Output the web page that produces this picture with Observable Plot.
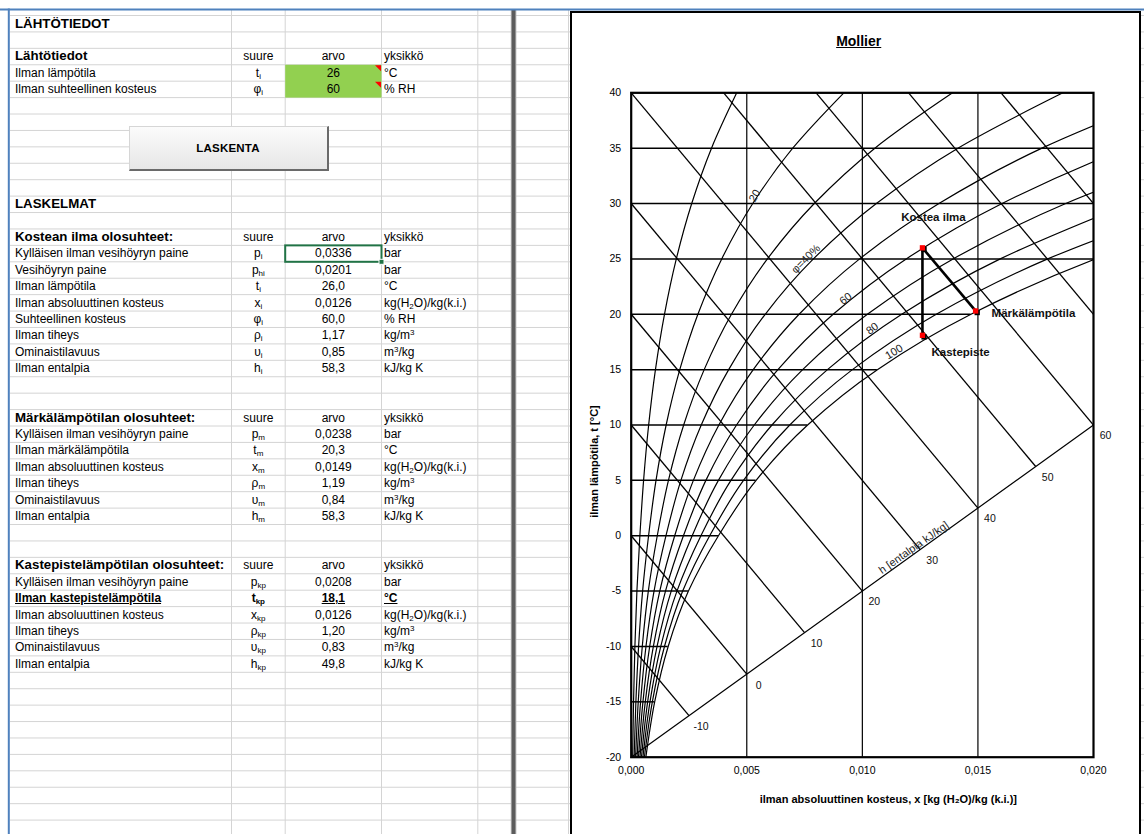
<!DOCTYPE html>
<html lang="fi">
<head>
<meta charset="utf-8">
<title>Mollier</title>
<script src="https://cdn.jsdelivr.net/npm/d3@7"></script>
<script src="https://cdn.jsdelivr.net/npm/@observablehq/plot@0.6"></script>
<style>
html, body { margin:0; padding:0; background:#fff; }
#page { position:relative; width:1144px; height:834px; overflow:hidden; background:#fff; font-family:"Liberation Sans", Arial, sans-serif; }
#grid { position:absolute; left:0; top:0; }
.cell { position:absolute; font-size:12px; color:#000; white-space:nowrap; }
.cell sub { font-size:8px; position:relative; top:2px; vertical-align:baseline; line-height:0; }
.cell sup { font-size:8px; position:relative; top:-4px; vertical-align:baseline; line-height:0; }
.bold { font-weight:bold; }
.hdr { font-weight:bold; font-size:13.3px; }
.ul { text-decoration:underline; }
#button { position:absolute; left:128.5px; top:125.7px; width:197px; height:42px; background:linear-gradient(#fbfbfb,#e6e6e6); border-top:1px solid #d6d6d6; border-left:1px solid #d6d6d6; border-right:2px solid #6a6a6a; border-bottom:2px solid #6a6a6a; font-weight:bold; font-size:11.5px; line-height:42px; text-align:center; color:#000; letter-spacing:0.2px; }
#chartbox { position:absolute; left:570px; top:11px; width:567px; height:840px; border:2px solid #000; background:#fff; }
#title { position:absolute; left:758.7px; top:33px; width:200px; text-align:center; font-weight:bold; font-size:14px; line-height:17px; text-decoration:underline; color:#000; }
#plot { position:absolute; left:572px; top:13px; }
</style>
</head>
<body>
<div id="page">
  <svg id="grid" width="1144" height="834"></svg>
  <div id="button">LASKENTA</div>
  <div id="chartbox"></div>
  <div id="title">Mollier</div>
  <div id="plot"></div>
</div>
<script>
// ---------------- Spreadsheet data ----------------
const sheetTitle1 = "LÄHTÖTIEDOT";
const sheetTitle2 = "LASKELMAT";
const colHeaders = ["suure", "arvo", "yksikkö"];

const inputHeader = "Lähtötiedot";
const inputLabels = ["Ilman lämpötila", "Ilman suhteellinen kosteus"];
const inputSymbols = ["t<sub>i</sub>", "φ<sub>i</sub>"];
const inputValues = ["26", "60"];
const inputUnits = ["°C", "% RH"];

const moistHeader = "Kostean ilma olosuhteet:";
const moistLabels = ["Kylläisen ilman vesihöyryn paine", "Vesihöyryn paine", "Ilman lämpötila", "Ilman absoluuttinen kosteus", "Suhteellinen kosteus", "Ilman tiheys", "Ominaistilavuus", "Ilman entalpia"];
const moistSymbols = ["p<sub>i</sub>", "p<sub>hi</sub>", "t<sub>i</sub>", "x<sub>i</sub>", "φ<sub>i</sub>", "ρ<sub>i</sub>", "υ<sub>i</sub>", "h<sub>i</sub>"];
const moistValues = ["0,0336", "0,0201", "26,0", "0,0126", "60,0", "1,17", "0,85", "58,3"];
const moistUnits = ["bar", "bar", "°C", "kg(H<sub>2</sub>O)/kg(k.i.)", "% RH", "kg/m<sup>3</sup>", "m<sup>3</sup>/kg", "kJ/kg K"];

const wetHeader = "Märkälämpötilan olosuhteet:";
const wetLabels = ["Kylläisen ilman vesihöyryn paine", "Ilman märkälämpötila", "Ilman absoluuttinen kosteus", "Ilman tiheys", "Ominaistilavuus", "Ilman entalpia"];
const wetSymbols = ["p<sub>m</sub>", "t<sub>m</sub>", "x<sub>m</sub>", "ρ<sub>m</sub>", "υ<sub>m</sub>", "h<sub>m</sub>"];
const wetValues = ["0,0238", "20,3", "0,0149", "1,19", "0,84", "58,3"];
const wetUnits = ["bar", "°C", "kg(H<sub>2</sub>O)/kg(k.i.)", "kg/m<sup>3</sup>", "m<sup>3</sup>/kg", "kJ/kg K"];

const dewHeader = "Kastepistelämpötilan olosuhteet:";
const dewLabels = ["Kylläisen ilman vesihöyryn paine", "Ilman kastepistelämpötila", "Ilman absoluuttinen kosteus", "Ilman tiheys", "Ominaistilavuus", "Ilman entalpia"];
const dewSymbols = ["p<sub>kp</sub>", "t<sub>kp</sub>", "x<sub>kp</sub>", "ρ<sub>kp</sub>", "υ<sub>kp</sub>", "h<sub>kp</sub>"];
const dewValues = ["0,0208", "18,1", "0,0126", "1,20", "0,83", "49,8"];
const dewUnits = ["bar", "°C", "kg(H<sub>2</sub>O)/kg(k.i.)", "kg/m<sup>3</sup>", "m<sup>3</sup>/kg", "kJ/kg K"];

// ---------------- Mollier chart data ----------------
const T = [-20, -15, -10, -5, 0, 5, 10, 15, 20, 25, 30, 35, 40];
const rhLevels = [10, 20, 30, 40, 50, 60, 70, 80, 90, 100];
const rh10 = [0.0000634, 0.0001014, 0.0001596, 0.0002467, 0.0003754, 0.0005361, 0.0007549, 0.0010488, 0.0014393, 0.0019519, 0.0026179, 0.0034745, 0.0045663];
const rh20 = [0.0001267, 0.0002029, 0.0003193, 0.0004936, 0.0007513, 0.0010732, 0.0015116, 0.0021012, 0.0028852, 0.0039161, 0.0052579, 0.0069881, 0.0092002];
const rh30 = [0.0001901, 0.0003044, 0.000479, 0.0007407, 0.0011276, 0.0016111, 0.0022701, 0.0031572, 0.0043379, 0.0058926, 0.0079203, 0.0105413, 0.013903];
const rh40 = [0.0002535, 0.0004059, 0.0006388, 0.0009879, 0.0015044, 0.0021501, 0.0030305, 0.0042167, 0.0057974, 0.0078817, 0.0106055, 0.0141349, 0.0186767];
const rh50 = [0.0003169, 0.0005075, 0.0007987, 0.0012354, 0.0018817, 0.0026899, 0.0037927, 0.0052798, 0.0072637, 0.0098835, 0.0133135, 0.0177695, 0.0235223];
const rh60 = [0.0003803, 0.0006091, 0.0009587, 0.0014831, 0.0022594, 0.0032307, 0.0045569, 0.0063465, 0.0087367, 0.011898, 0.0160449, 0.021446, 0.02844];
const rh70 = [0.0004438, 0.0007107, 0.0011188, 0.0017309, 0.0026375, 0.0037724, 0.0053228, 0.0074169, 0.0102168, 0.0139254, 0.0188, 0.025165];
const rh80 = [0.0005072, 0.0008123, 0.001279, 0.001979, 0.0030161, 0.004315, 0.0060907, 0.0084909, 0.0117038, 0.0159658, 0.021578];
const rh90 = [0.0005707, 0.000914, 0.0014392, 0.0022273, 0.0033952, 0.0048586, 0.0068604, 0.0095686, 0.0131978, 0.0180193, 0.024382];
const rh100 = [0.0006342, 0.0010158, 0.0015996, 0.0024757, 0.0037747, 0.0054032, 0.007632, 0.01065, 0.0146989, 0.0200861, 0.02721];

const isoT = [-20, -15, -10, -5, 0, 5, 10, 15, 20, 25, 30, 35, 40];
const isoXend = [0.000634, 0.001016, 0.0016, 0.002476, 0.003775, 0.005403, 0.007632, 0.01065, 0.0147, 0.02, 0.02, 0.02, 0.02];

const xGrid = [0.005, 0.010, 0.015];
const xTicks = [0, 0.005, 0.010, 0.015, 0.020];
const yTicks = [-20, -15, -10, -5, 0, 5, 10, 15, 20, 25, 30, 35, 40];

const hVals = [-10, 0, 10, 20, 30, 40, 50, 60, 70, 80];
const hX0 = [0, 0, 0, 0, 0, 0, 0.004, 0.008, 0.012, 0.016];
const hT0 = [-10, 0, 10, 20, 30, 40, 40, 40, 40, 40];
const hX1 = [0.0025, 0.005, 0.0075, 0.010, 0.0125, 0.015, 0.0175, 0.020, 0.020, 0.020];
const hT1 = [-16.25, -12.5, -8.75, -5, -1.25, 2.5, 6.25, 10, 20, 30];
const hLabelCount = 8;
const baseX = [0, 0.020];
const baseT = [-20, 10];

const stateNames = ["Kostea ilma", "Märkälämpötila", "Kastepiste"];
const stateX = [0.0126, 0.0149, 0.0126];
const stateT = [26.0, 20.3, 18.1];

const rhLabelText = ["20", "φ=40%", "60", "80", "100"];
const rhLabelX = [0.00534, 0.00755, 0.00928, 0.01043, 0.01137];
const rhLabelT = [30.7, 25.0, 21.4, 18.7, 16.6];

const titleText = "Mollier";
const xLabel = "ilman absoluuttinen kosteus, x [kg (H₂O)/kg (k.i.)]";
const yLabel = "ilman lämpötila, t [°C]";
const hLabel = "h [entalpia kJ/kg]";

// ---------------- Spreadsheet rendering ----------------
const page = document.getElementById("page");
const svg = d3.select("#grid");
const ROW0 = 15.5, ROWH = 16.42;
const rowTop = k => ROW0 + (k - 1) * ROWH;
const colLines = [231.5, 285.2, 381.5, 477.8, 568.5];

for (let k = 0; k <= 52; k++) {
  const y = ROW0 + k * ROWH;
  if (y > 834) break;
  svg.append("line").attr("x1", 10).attr("x2", 570).attr("y1", y).attr("y2", y).attr("stroke", "#d4d4d4").attr("stroke-width", 1);
  svg.append("line").attr("x1", 1141).attr("x2", 1144).attr("y1", y).attr("y2", y).attr("stroke", "#d4d4d4").attr("stroke-width", 1);
}
colLines.forEach(x => svg.append("line").attr("x1", x).attr("x2", x).attr("y1", 10).attr("y2", 834).attr("stroke", "#d4d4d4").attr("stroke-width", 1));
// split bar
svg.append("rect").attr("x", 510.8).attr("y", 10).attr("width", 5.5).attr("height", 824).attr("fill", "#a8a8a8");
svg.append("rect").attr("x", 511.8).attr("y", 10).attr("width", 3.5).attr("height", 824).attr("fill", "#5c5c5c");
// blue frame lines
svg.append("rect").attr("x", 0).attr("y", 8.5).attr("width", 1144).attr("height", 2).attr("fill", "#4f81bd");
svg.append("rect").attr("x", 7.8).attr("y", 8.5).attr("width", 2).attr("height", 826).attr("fill", "#4f81bd");
// green input cells + comment markers
svg.append("rect").attr("x", 285.2).attr("y", rowTop(4)).attr("width", 96.3).attr("height", 2 * ROWH).attr("fill", "#92d050");
[4, 5].forEach(k => {
  const y = rowTop(k);
  svg.append("path").attr("d", `M375,${y + 0.5}L381,${y + 0.5}L381,${y + 6.5}Z`).attr("fill", "#ff0000");
});
// selected cell
svg.append("rect").attr("x", 285.2).attr("y", rowTop(15)).attr("width", 96.3).attr("height", ROWH).attr("fill", "none").attr("stroke", "#217346").attr("stroke-width", 2);
svg.append("rect").attr("x", 379).attr("y", rowTop(16) - 2.5).attr("width", 5).attr("height", 5).attr("fill", "#217346").attr("stroke", "#fff").attr("stroke-width", 1);

function cell(k, col, html, cls) {
  const d = document.createElement("div");
  d.className = "cell " + (cls || "");
  d.style.top = rowTop(k) + "px";
  d.style.height = ROWH + "px";
  d.style.lineHeight = ROWH + "px";
  if (col === "A") { d.style.left = "15px"; }
  if (col === "B") { d.style.left = "231.5px"; d.style.width = "53.7px"; d.style.textAlign = "center"; }
  if (col === "C") { d.style.left = "285.2px"; d.style.width = "96.3px"; d.style.textAlign = "center"; }
  if (col === "D") { d.style.left = "384px"; }
  d.innerHTML = html;
  page.insertBefore(d, document.getElementById("button"));
}
function headerRow(k, title) {
  cell(k, "A", title, "hdr");
  cell(k, "B", colHeaders[0]);
  cell(k, "C", colHeaders[1]);
  cell(k, "D", colHeaders[2]);
}
function section(k0, labels, symbols, values, units, boldRow) {
  labels.forEach((lab, i) => {
    const k = k0 + i;
    const b = i === boldRow;
    cell(k, "A", lab, b ? "bold ul" : "");
    cell(k, "B", symbols[i], b ? "bold" : "");
    cell(k, "C", values[i], b ? "bold ul" : "");
    cell(k, "D", units[i], b ? "bold ul" : "");
  });
}
cell(1, "A", sheetTitle1, "hdr");
headerRow(3, inputHeader);
section(4, inputLabels, inputSymbols, inputValues, inputUnits, -1);
cell(12, "A", sheetTitle2, "hdr");
headerRow(14, moistHeader);
section(15, moistLabels, moistSymbols, moistValues, moistUnits, -1);
headerRow(25, wetHeader);
section(26, wetLabels, wetSymbols, wetValues, wetUnits, -1);
headerRow(34, dewHeader);
section(35, dewLabels, dewSymbols, dewValues, dewUnits, 1);

document.getElementById("title").textContent = titleText;

// ---------------- Mollier chart ----------------
const rhSeries = [rh10, rh20, rh30, rh40, rh50, rh60, rh70, rh80, rh90, rh100];
const rhData = rhSeries.flatMap((xs, k) => xs.map((x, i) => ({phi: rhLevels[k], x, t: T[i]})));
const isoData = isoT.map((t, i) => ({t, x1: 0, x2: isoXend[i]}));
const hData = hVals.map((h, i) => ({h, x0: hX0[i], t0: hT0[i], x1: hX1[i], t1: hT1[i]}));
const hLabelData = hData.slice(0, hLabelCount);
const baseData = baseX.map((x, i) => ({x, t: baseT[i]}));
const states = stateNames.map((name, i) => ({name, x: stateX[i], t: stateT[i]}));
const rhAngles = [-60, -45, -37, -36, -31];
const rhLabels = rhLabelText.map((text, i) => ({text, x: rhLabelX[i], t: rhLabelT[i], angle: rhAngles[i]}));
const stateOffsets = [[11, -31], [16, 2], [9, 17]];
const stateAnchors = ["middle", "start", "start"];

const chart = Plot.plot({
  width: 567,
  height: 821,
  marginLeft: 58.7,
  marginRight: 46,
  marginTop: 79.3,
  marginBottom: 77.3,
  style: {fontFamily: "'Liberation Sans', Arial, sans-serif", fontSize: "10.5px", color: "#000", background: "transparent", overflow: "visible"},
  x: {domain: [0, 0.02], ticks: xTicks, tickFormat: d => d.toFixed(3).replace(".", ","), tickSize: 0, tickPadding: 9, label: null},
  y: {domain: [-20, 40], ticks: yTicks, tickFormat: d => String(d), tickSize: 0, tickPadding: 10, label: null},
  marks: [
    Plot.ruleX(xGrid, {stroke: "#000", strokeWidth: 1.2}),
    Plot.ruleY(isoData, {y: "t", x1: "x1", x2: "x2", stroke: "#000", strokeWidth: 1.5}),
    Plot.line(rhData, {x: "x", y: "t", z: "phi", curve: "monotone-y", stroke: "#000", strokeWidth: 1.2, clip: true}),
    Plot.link(hData, {x1: "x0", y1: "t0", x2: "x1", y2: "t1", stroke: "#000", strokeWidth: 1.3, clip: true}),
    Plot.line(baseData, {x: "x", y: "t", stroke: "#000", strokeWidth: 1.2}),
    Plot.frame({stroke: "#000", strokeWidth: 2.2}),
    Plot.link([states[0], states[0]], {x1: "x", y1: "t", x2: (d, i) => states[i + 1].x, y2: (d, i) => states[i + 1].t, stroke: "#000", strokeWidth: 2.6}),
    Plot.dot(states, {x: "x", y: "t", symbol: "square", r: 3, fill: "#000", dx: 1.6, dy: 1.6}),
    Plot.dot(states, {x: "x", y: "t", symbol: "square", r: 3, fill: "#ff0000"}),
    ...states.map((s, i) => Plot.text([s], {x: "x", y: "t", text: "name", dx: stateOffsets[i][0], dy: stateOffsets[i][1], textAnchor: stateAnchors[i], fontWeight: "bold", fontSize: 11.5, fill: "#111"})),
    Plot.text(rhLabels, {x: "x", y: "t", text: "text", rotate: "angle", fontSize: 11, fill: "#222"}),
    Plot.text(hLabelData, {x: "x1", y: "t1", text: d => String(d.h), dx: 12, dy: 11, fontSize: 10.5, fill: "#111"}),
    Plot.text([hLabel], {x: () => 0.01222, y: () => -1.07, rotate: -35, fontSize: 11, fill: "#222"}),
    Plot.text([yLabel], {x: () => 0, y: () => 6.7, rotate: -90, dx: -37, fontWeight: "bold", fontSize: 11}),
    Plot.text([xLabel], {x: () => 0.01, y: () => -20, dx: 26, dy: 42.5, fontWeight: "bold", fontSize: 11})
  ]
});
document.getElementById("plot").appendChild(chart);
</script>
</body>
</html>
